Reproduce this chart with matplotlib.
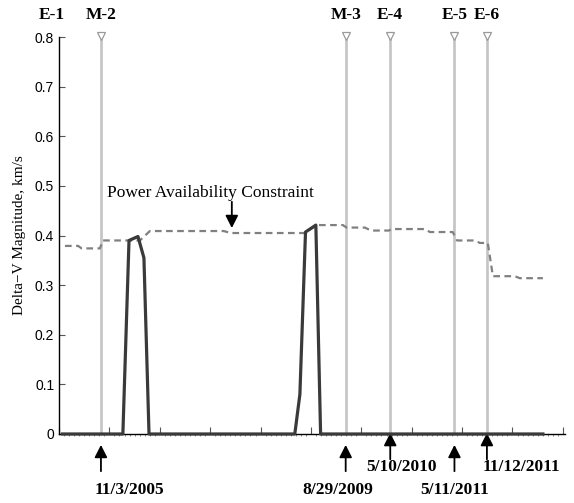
import datetime as dt
import numpy as np
import matplotlib
matplotlib.use("Agg")
import matplotlib.pyplot as plt
import matplotlib.transforms as mtransforms
from matplotlib.ticker import FuncFormatter

# ---------------- data ----------------
ref_date = dt.date(2005, 11, 3)          # day 0 of the x axis
event_names = ["M-2", "M-3", "E-4", "E-5", "E-6"]
event_dates = [dt.date(2005, 11, 3), dt.date(2009, 8, 29), dt.date(2010, 5, 10),
               dt.date(2011, 5, 11), dt.date(2011, 11, 12)]
date_labels = ["11/3/2005", "8/29/2009", "5/10/2010", "5/11/2011", "11/12/2011"]

# Power availability constraint (days since ref_date, km/s)
power_days = [-205, -130, -110, -6, 11, 222, 279, 700, 740, 1134, 1160, 1231, 1379,
              1400, 1504, 1540, 1641, 1658, 1846, 1875, 2005, 2030, 2131, 2160,
              2205, 2234, 2359, 2387, 2519]
power_vals = [0.379, 0.379, 0.374, 0.374, 0.390, 0.390, 0.409, 0.409, 0.405, 0.405,
              0.405, 0.421, 0.421, 0.416, 0.416, 0.410, 0.410, 0.413, 0.413, 0.407,
              0.407, 0.390, 0.390, 0.385, 0.385, 0.318, 0.318, 0.314, 0.314]

# Delta-V magnitude profile
dv_days = [-220, 125, 160, 211, 245, 274, 1105, 1134, 1166, 1225, 1252, 2519]
dv_vals = [0.0, 0.0, 0.390, 0.398, 0.355, 0.0, 0.0, 0.08, 0.407, 0.421, 0.0, 0.0]

y_ticks = [0, 0.1, 0.2, 0.3, 0.4, 0.5, 0.6, 0.7, 0.8]

# ---------------- layout ----------------
x_min, x_step = -239.0, 287.2
x_max = x_min + 10 * x_step + 12

fig = plt.figure(figsize=(5.74, 5.03), dpi=100)
ax = fig.add_axes([0.1028, 0.1372, 0.9843 - 0.1028, 0.9264 - 0.1372])

serif = "Liberation Serif"
sans = "Liberation Sans"

ev_days = [(d - ref_date).days for d in event_dates]

# vertical event lines
for d in ev_days:
    ax.plot([d, d], [0, 0.8], color="#c4c4c4", lw=1.9, zorder=1, solid_capstyle="butt")
    ax.plot([d], [0.803], marker="v", ms=5.5, mfc="white", mec="#999999", mew=0.9,
            clip_on=False, zorder=3)

ax.plot(power_days, power_vals, color="#808080", lw=1.6, ls=(0, (3, 2)), zorder=2)
ax.plot(dv_days, dv_vals, color="#3a3a3a", lw=2.3, zorder=4, clip_on=False)

ax.set_xlim(x_min, x_max)
ax.set_ylim(0, 0.8)
ax.set_yticks(y_ticks)
ax.yaxis.set_major_formatter(FuncFormatter(lambda v, p: "0" if v == 0 else f"{v:.1f}"))
ax.set_xticks(x_min + x_step * np.arange(11))
ax.set_xticks(x_min + x_step / 10 * np.arange(101), minor=True)
ax.set_xticklabels([])
ax.tick_params(axis="y", direction="in", length=4, color="#555555", labelsize=10,
               labelfontfamily=sans)
ax.tick_params(axis="x", which="major", direction="in", length=5, color="#555555")
ax.tick_params(axis="x", which="minor", direction="out", length=1.5, color="#777777",
               width=0.6)
for s in ["top", "right"]:
    ax.spines[s].set_visible(False)
ax.spines["left"].set_linewidth(1.0)
ax.spines["bottom"].set_linewidth(1.0)

ax.set_ylabel("Delta\u2212V Magnitude, km/s", family=serif, fontsize=11, labelpad=6)

# top event labels
blend = mtransforms.blended_transform_factory(ax.transAxes, ax.transData)
ax.text(-0.014, 0.844, "E-1", transform=blend, family=serif, fontweight="bold",
        fontsize=12.5, ha="center", va="center", clip_on=False)
for name, d in zip(event_names, ev_days):
    ax.text(d, 0.844, name, family=serif, fontweight="bold", fontsize=12.5,
            ha="center", va="center", clip_on=False)

# bottom arrows and date labels
arrow_low = [True, True, False, True, False]
text_dx = [28, -8, 11, 0, 34]
for d, lab, low, dx in zip(ev_days, date_labels, arrow_low, text_dx):
    tip = -0.022 if low else 0.002
    tail = tip - 0.053
    ax.annotate("", xy=(d, tip), xytext=(d, tail), annotation_clip=False,
                arrowprops=dict(arrowstyle="-|>,head_length=0.75,head_width=0.38",
                                color="black", lw=1.3, shrinkA=0, shrinkB=0))
    ty = -0.113 if low else -0.0665
    ax.annotate(lab, xy=(d, ty), xytext=(dx, 0), textcoords="offset pixels",
                family=serif, fontweight="bold", fontsize=12.5, ha="center",
                va="center", annotation_clip=False)

# power constraint label
ax.text(34, 0.486, "Power Availability Constraint", family=serif, fontsize=12.5,
        ha="left", va="center")
ax.annotate("", xy=(746, 0.415), xytext=(746, 0.468),
            arrowprops=dict(arrowstyle="-|>,head_length=0.75,head_width=0.38",
                            color="black", lw=1.3, shrinkA=0, shrinkB=0))

fig.savefig("out.png", dpi=100)
